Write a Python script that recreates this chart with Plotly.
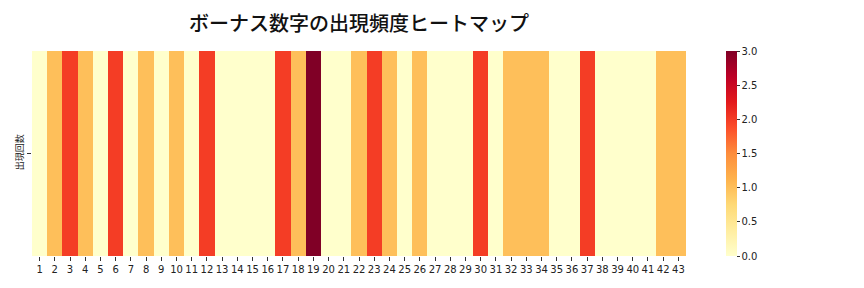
import plotly.graph_objects as go

numbers = [str(i) for i in range(1, 44)]
counts = [0, 1, 2, 1, 0, 2, 0, 1, 0, 1, 0, 2, 0, 0, 0, 0, 2, 1, 3, 0, 0, 1, 2, 1, 0, 1,
          0, 0, 0, 2, 0, 1, 1, 1, 0, 0, 2, 0, 0, 0, 0, 1, 1]
row_label = ["出現回数"]
title_text = "ボーナス数字の出現頻度ヒートマップ"

ylorrd = ["#ffffcc", "#ffeda0", "#fed976", "#feb24c", "#fd8d3c",
          "#fc4e2a", "#e31a1c", "#bd0026", "#800026"]
colorscale = [[i / 8, c] for i, c in enumerate(ylorrd)]

font_family = "DejaVu Sans, Noto Sans CJK JP, sans-serif"

fig = go.Figure(go.Heatmap(
    z=[counts],
    x=numbers,
    y=row_label,
    zmin=0, zmax=3,
    colorscale=colorscale,
    xgap=0, ygap=0,
    colorbar=dict(
        x=(726 - 32) / 654, xanchor="left", y=0.5, yanchor="middle",
        len=1, lenmode="fraction", thickness=11, xpad=0, ypad=0,
        outlinewidth=0,
        tickvals=[0, 0.5, 1, 1.5, 2, 2.5, 3],
        ticktext=["0.0", "0.5", "1.0", "1.5", "2.0", "2.5", "3.0"],
        ticks="outside", ticklen=3, tickcolor="#333",
        tickfont=dict(size=10, color="#222", family=font_family),
    ),
))

fig.update_layout(
    width=864, height=288,
    margin=dict(l=32, r=178, t=51, b=32),
    paper_bgcolor="white", plot_bgcolor="white",
    title=dict(text=title_text, x=(32 + 327) / 864, xanchor="center",
               y=1 - 24 / 288, yanchor="middle",
               font=dict(size=20, color="#111", weight=500,
                         family="Noto Sans CJK JP, sans-serif")),
    font=dict(family=font_family, color="#222"),
)
fig.update_xaxes(type="category", ticks="outside", ticklen=4, tickcolor="#333",
                 tickfont=dict(size=10, color="#222"), showgrid=False, zeroline=False,
                 showline=False)
fig.update_yaxes(type="category", ticks="outside", ticklen=4, tickcolor="#333",
                 tickangle=-90, tickfont=dict(size=9, color="#222",
                                              family="Noto Sans CJK JP, sans-serif"),
                 showgrid=False, zeroline=False, showline=False)

fig.write_html("out.html")
